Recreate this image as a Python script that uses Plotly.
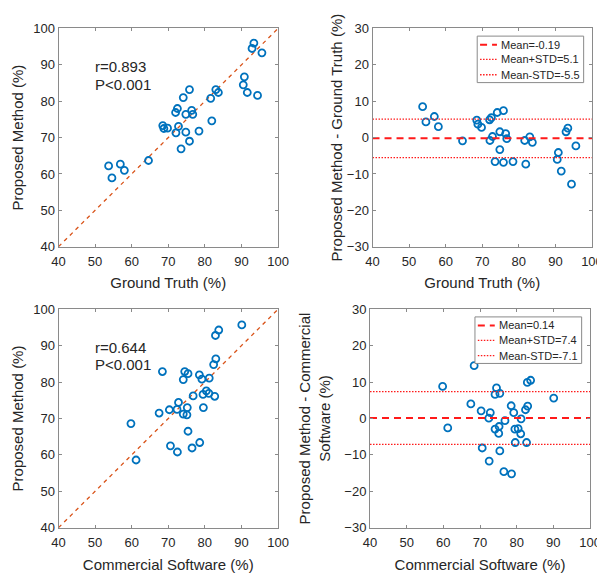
import plotly.graph_objects as go

# ---------------- data ----------------
ground_truth = [53.7, 54.6, 56.9, 58.0, 64.6, 68.5, 68.8, 69.8, 72.0, 72.5, 72.8, 72.1,
                73.5, 74.1, 74.8, 74.8, 75.8, 75.8, 76.4, 76.7, 78.4, 81.6, 81.9, 83.0,
                83.7, 90.5, 90.8, 91.6, 94.4, 92.9, 93.4, 95.6]
proposed_gt = [62.2, 58.9, 62.7, 61.0, 63.7, 73.3, 72.5, 72.6, 76.9, 78.0, 73.1, 71.3,
               66.9, 81.0, 76.4, 71.5, 83.2, 69.0, 77.5, 76.4, 71.8, 80.8, 74.6, 83.2,
               82.4, 84.5, 86.7, 82.4, 81.6, 94.5, 96.0, 93.3]

commercial = [59.8, 61.2, 67.5, 68.4, 70.3, 70.6, 72.4, 72.8, 72.5, 74.1, 74.1, 74.5,
              75.2, 75.1, 75.4, 75.4, 76.5, 76.8, 78.5, 79.2, 78.6, 79.5, 79.6, 80.4,
              81.1, 81.2, 82.7, 82.4, 83.0, 82.9, 83.8, 90.1]
proposed_cs = [68.6, 58.6, 71.5, 82.9, 72.4, 62.5, 72.5, 74.4, 60.8, 71.2, 80.7, 82.9,
               73.0, 71.0, 82.3, 66.5, 61.9, 76.2, 82.0, 80.8, 63.4, 76.6, 73.0, 77.6,
               76.9, 81.1, 76.1, 84.8, 86.4, 92.8, 94.3, 95.7]

stats_gt = {"r": "0.893", "mean": -0.19, "plus": 5.1, "minus": -5.5}
stats_cs = {"r": "0.644", "mean": 0.14, "plus": 7.4, "minus": -7.1}

diff_gt = [p - g for p, g in zip(proposed_gt, ground_truth)]
diff_cs = [p - c for p, c in zip(proposed_cs, commercial)]

# ---------------- styles ----------------
BLUE = "#0072BD"
ORANGE = "#D95319"
RED = "#FF1A1A"
AX = "#8a8a8a"
TXT = "#262626"
FONT = "Liberation Sans, Arial, sans-serif"
MEAN_LINE = dict(color=RED, width=2, dash="7px,5px")
STD_LINE = dict(color=RED, width=1.3, dash="1.5px,1.5px")

fig = go.Figure()

def scatter(x, y, xa, ya):
    fig.add_trace(go.Scatter(x=x, y=y, mode="markers", xaxis=xa, yaxis=ya, showlegend=False,
                             marker=dict(symbol="circle-open", size=7, color=BLUE,
                                         line=dict(width=1.8, color=BLUE))))

def identity(xa, ya):
    fig.add_trace(go.Scatter(x=[40, 100], y=[40, 100], mode="lines", xaxis=xa, yaxis=ya,
                             showlegend=False, line=dict(color=ORANGE, width=1.3, dash="4px,4px")))

def ba_lines(st, xa, ya):
    items = [(f"Mean={st['mean']:g}", st["mean"], MEAN_LINE),
             (f"Mean+STD={st['plus']:g}", st["plus"], STD_LINE),
             (f"Mean-STD={st['minus']:g}", st["minus"], STD_LINE)]
    for name, val, ln in items:
        fig.add_trace(go.Scatter(x=[40, 100], y=[val, val], mode="lines", xaxis=xa, yaxis=ya,
                                 name=name, showlegend=False, line=ln))
    # compact MATLAB-style legend box, drawn in the axis domain
    xr, yr = f"{xa} domain", f"{ya} domain"
    fig.add_shape(type="rect", xref=xr, yref=yr, x0=0.477, x1=0.962, y0=0.752, y1=0.965,
                  fillcolor="white", line=dict(color=AX, width=1), layer="above")
    for (name, _, ln), yy in zip(items, [0.926, 0.858, 0.788]):
        fig.add_shape(type="line", xref=xr, yref=yr, x0=0.49, x1=0.567, y0=yy, y1=yy,
                      line=ln, layer="above")
        fig.add_annotation(xref=xr, yref=yr, x=0.578, y=yy, text=name, showarrow=False,
                           xanchor="left", yanchor="middle", font=dict(size=11, color=TXT))

identity("x", "y")
scatter(ground_truth, proposed_gt, "x", "y")
scatter(ground_truth, diff_gt, "x2", "y2")
ba_lines(stats_gt, "x2", "y2")
identity("x3", "y3")
scatter(commercial, proposed_cs, "x3", "y3")
scatter(commercial, diff_cs, "x4", "y4")
ba_lines(stats_cs, "x4", "y4")

def common():
    return dict(ticks="inside", ticklen=3, tickcolor=AX, showline=True, linecolor=AX, linewidth=1,
                mirror="allticks", showgrid=False, zeroline=False, automargin=False,
                tickfont=dict(size=13, color=TXT))

def xaxis(dom, anchor, title, so):
    d = common()
    d.update(domain=dom, anchor=anchor, range=[40, 100], tickvals=[40, 50, 60, 70, 80, 90, 100],
             ticklabelstandoff=3,
             title=dict(text=title, font=dict(size=15, color=TXT), standoff=so))
    return d

def yaxis(dom, anchor, rng, tv, title, so):
    d = common()
    d.update(domain=dom, anchor=anchor, range=rng, tickvals=tv,
             title=dict(text=title, font=dict(size=15, color=TXT), standoff=so))
    return d

# the page body has an 8 px margin, so the figure is sized to fit inside it
W, H = 597, 572
top = [0.5827, 0.9642]
bot = [0.0914, 0.4733]
lx = [0.0846, 0.4523]
ticks100 = [40, 50, 60, 70, 80, 90, 100]
ticks30 = [-30, -20, -10, 0, 10, 20, 30]

fig.update_layout(
    width=W, height=H, margin=dict(l=0, r=0, t=0, b=0),
    paper_bgcolor="white", plot_bgcolor="white",
    font=dict(family=FONT, color=TXT), showlegend=False,
    xaxis=xaxis(lx, "y", "Ground Truth (%)", 9),
    yaxis=yaxis(top, "x", [40, 100], ticks100, "Proposed Method (%)", 5),
    xaxis2=xaxis([0.6106, 0.9782], "y2", "Ground Truth (%)", 9),
    yaxis2=yaxis(top, "x2", [-30, 30], ticks30, "Proposed Method - Ground Truth (%)", 0),
    xaxis3=xaxis(lx, "y3", "Commercial Software (%)", 10),
    yaxis3=yaxis(bot, "x3", [40, 100], ticks100, "Proposed Method (%)", 5),
    xaxis4=xaxis([0.6064, 0.9749], "y4", "Commercial Software (%)", 10),
    yaxis4=yaxis(bot, "x4", [-30, 30], ticks30, "Proposed Method - Commercial<br>Software (%)", 10),
)

for st, xa, ya in [(stats_gt, "x", "y"), (stats_cs, "x3", "y3")]:
    fig.add_annotation(x=49.3, y=89.6, xref=xa, yref=ya, text=f"r={st['r']}",
                       showarrow=False, xanchor="left", font=dict(size=15, color=TXT))
    fig.add_annotation(x=49.3, y=84.7, xref=xa, yref=ya, text="P<0.001",
                       showarrow=False, xanchor="left", font=dict(size=15, color=TXT))

fig.write_html("out.html")
